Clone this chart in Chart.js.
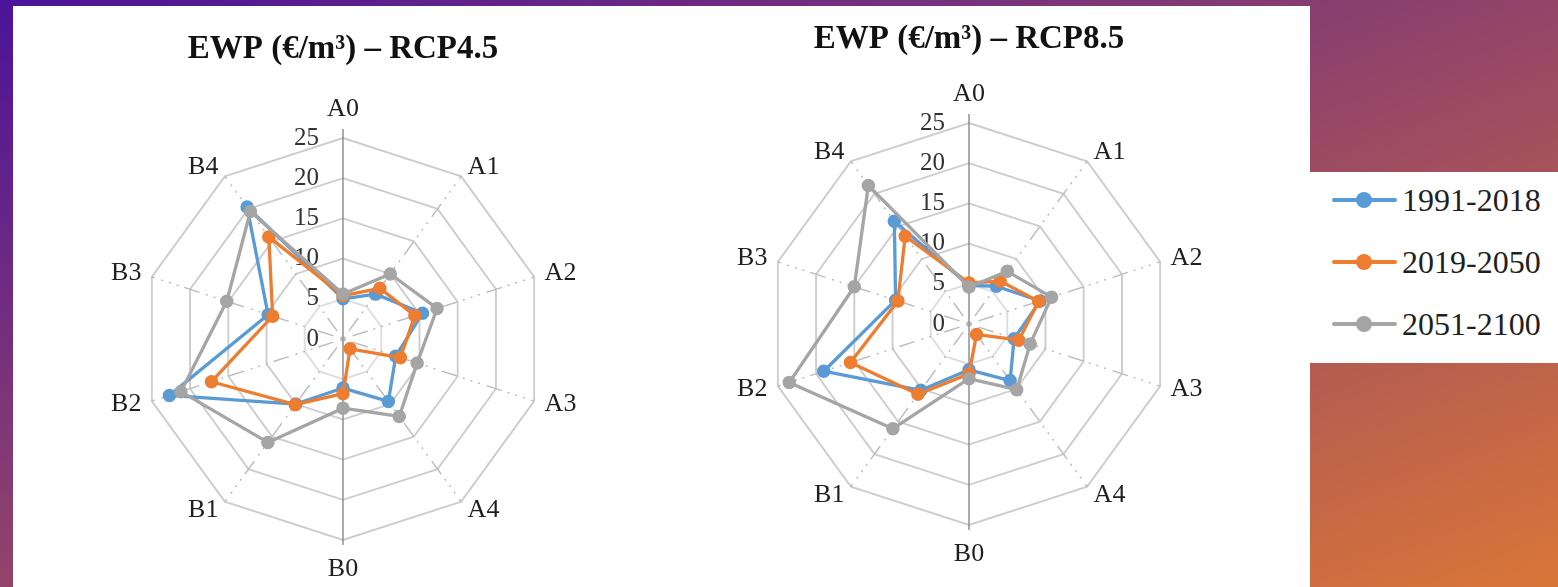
<!DOCTYPE html>
<html>
<head>
<meta charset="utf-8">
<title>EWP radar charts</title>
<script src="https://cdn.jsdelivr.net/npm/chart.js@4.4.1/dist/chart.umd.min.js"></script>
<style>
  html, body { margin: 0; padding: 0; }
  body {
    width: 1558px; height: 587px; overflow: hidden; position: relative;
    background: linear-gradient(to bottom right, #4b1399, #da7638);
    font-family: "Liberation Serif", serif;
  }
  #panel { position: absolute; left: 13px; top: 6px; width: 1297px; height: 581px; background: #fff; }
  #legendBox { position: absolute; left: 1310px; top: 172px; width: 248px; height: 191px; background: #fff; }
  canvas { position: absolute; }
  #c45 { left: 0; top: 0; }
  #c85 { left: 650px; top: 0; }
  .lg-row { position: absolute; left: 0; width: 248px; height: 40px; }
  .lg-line { position: absolute; left: 22px; top: 18px; width: 65px; height: 4px; border-radius: 2px; }
  .lg-dot { position: absolute; left: 46px; top: 12px; width: 16px; height: 16px; border-radius: 50%; }
  .lg-text { position: absolute; left: 92px; top: 0; font-size: 32px; line-height: 40px; color: #1f1f1f; white-space: nowrap; }
</style>
</head>
<body>
<div id="panel">
  <canvas id="c45" width="650" height="581"></canvas>
  <canvas id="c85" width="647" height="581"></canvas>
</div>
<div id="legendBox"></div>

<script>
// Categories around the radar, clockwise from the top
const categories = ['A0', 'A1', 'A2', 'A3', 'A4', 'B0', 'B1', 'B2', 'B3', 'B4'];
const seriesNames = ['1991-2018', '2019-2050', '2051-2100'];
const seriesColors = ['#5B9BD5', '#ED7D31', '#A5A5A5'];
const tickValues = [0, 5, 10, 15, 20, 25];

// EWP (€/m³) under RCP4.5
const rcp45_1991_2018 = [5.0, 6.9, 10.4, 6.9, 9.6, 6.1, 10.0, 22.7, 9.8, 20.3];
const rcp45_2019_2050 = [5.4, 7.8, 9.4, 7.5, 1.5, 6.8, 10.1, 17.2, 9.2, 15.7];
const rcp45_2051_2100 = [5.6, 10.0, 12.3, 9.7, 11.9, 8.6, 15.9, 21.2, 15.2, 19.6];

// EWP (€/m³) under RCP8.5
const rcp85_1991_2018 = [4.8, 5.8, 9.3, 5.9, 8.7, 5.7, 10.2, 19.0, 9.6, 15.8];
const rcp85_2019_2050 = [5.1, 6.6, 9.1, 6.5, 1.6, 6.2, 10.8, 15.5, 9.3, 13.5];
const rcp85_2051_2100 = [4.6, 8.1, 10.8, 8.0, 10.1, 6.8, 16.1, 23.5, 15.0, 21.3];

const FONT = '"Liberation Serif", serif';
const half = categories.length / 2;

// Axis line, value labels, category labels and the chart heading
const radarText = {
  id: 'radarText',
  beforeDatasetsDraw(chart) {
    const s = chart.scales.r;
    const ctx = chart.ctx;
    ctx.save();
    const top = s.getPointPosition(0, s.drawingArea + 9);
    const bot = s.getPointPosition(half, s.drawingArea + 5);
    ctx.strokeStyle = '#7f7f7f';
    ctx.lineWidth = 1.3;
    ctx.beginPath();
    ctx.moveTo(top.x, top.y);
    ctx.lineTo(bot.x, bot.y);
    ctx.stroke();

    ctx.font = '25px ' + FONT;
    ctx.fillStyle = '#333333';
    ctx.textAlign = 'right';
    ctx.textBaseline = 'middle';
    s.ticks.forEach(t => {
      const d = s.getDistanceFromCenterForValue(t.value);
      ctx.fillText(String(t.value), s.xCenter - 24, s.yCenter - d);
    });
    ctx.restore();
  },
  afterDraw(chart, args, opts) {
    const s = chart.scales.r;
    const ctx = chart.ctx;
    ctx.save();
    ctx.font = '26px ' + FONT;
    ctx.fillStyle = '#1f1f1f';
    ctx.textBaseline = 'middle';
    chart.data.labels.forEach((lab, i) => {
      const p = s.getPointPosition(i, s.drawingArea + 11);
      let y = p.y;
      let align = 'center';
      if (i === 0) y -= 18;
      else if (i === half) y += 18;
      else align = i < half ? 'left' : 'right';
      ctx.textAlign = align;
      ctx.fillText(lab, p.x, y);
    });

    ctx.font = 'bold 33px ' + FONT;
    ctx.fillStyle = '#111111';
    ctx.textAlign = 'center';
    ctx.textBaseline = 'alphabetic';
    ctx.fillText(opts.title, s.xCenter, s.yCenter - s.drawingArea - opts.titleGap);
    ctx.restore();
  }
};

function makeDatasets(series) {
  // the last period is drawn on top, the first underneath
  return series.map((values, k) => ({
    label: seriesNames[k],
    data: values,
    borderColor: seriesColors[k],
    backgroundColor: seriesColors[k],
    pointBackgroundColor: seriesColors[k],
    pointBorderColor: seriesColors[k],
    borderWidth: 3.3,
    pointRadius: 6,
    pointBorderWidth: 1.5,
    fill: false,
    tension: 0,
    order: series.length - k
  }));
}

function makeRadar(id, title, titleGap, series, padding) {
  return new Chart(document.getElementById(id), {
    type: 'radar',
    data: { labels: categories, datasets: makeDatasets(series) },
    options: {
      responsive: false,
      animation: false,
      devicePixelRatio: 1,
      layout: { padding },
      plugins: {
        legend: { display: false },
        tooltip: { enabled: false },
        radarText: { title, titleGap }
      },
      elements: { line: { borderJoinStyle: 'round' } },
      scales: {
        r: {
          min: 0,
          max: 25,
          afterBuildTicks: sc => { sc.ticks = tickValues.map(v => ({ value: v })); },
          ticks: { display: false },
          pointLabels: { display: false },
          grid: {
            color: c => (c.tick && c.tick.value === 5 ? '#dedede' : '#cdcdcd'),
            lineWidth: 1.9
          },
          angleLines: {
            color: '#bcbcbc',
            lineWidth: c => (c.index % half === 0 ? 0 : 1.5),
            borderDash: [16, 6, 2, 6, 2, 6, 2, 7],
            borderDashOffset: 37
          }
        }
      }
    },
    plugins: [radarText]
  });
}

makeRadar('c45', 'EWP (€/m³) – RCP4.5', 80,
  [rcp45_1991_2018, rcp45_2019_2050, rcp45_2051_2100],
  { left: 129, top: 132, right: 119, bottom: 47 });

makeRadar('c85', 'EWP (€/m³) – RCP8.5', 75,
  [rcp85_1991_2018, rcp85_2019_2050, rcp85_2051_2100],
  { left: 105, top: 117, right: 140, bottom: 62 });

// Shared legend for both charts
const legendBox = document.getElementById('legendBox');
seriesNames.forEach((name, k) => {
  const row = document.createElement('div');
  row.className = 'lg-row';
  row.style.top = (8 + k * 62) + 'px';
  const line = document.createElement('div');
  line.className = 'lg-line';
  line.style.background = seriesColors[k];
  const dot = document.createElement('div');
  dot.className = 'lg-dot';
  dot.style.background = seriesColors[k];
  const text = document.createElement('div');
  text.className = 'lg-text';
  text.textContent = name;
  row.appendChild(line);
  row.appendChild(dot);
  row.appendChild(text);
  legendBox.appendChild(row);
});
</script>
</body>
</html>
